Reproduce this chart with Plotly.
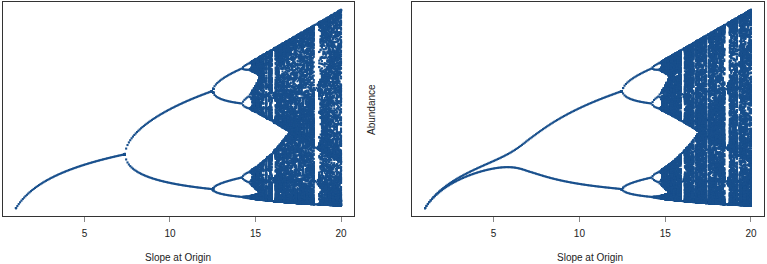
import numpy as np
import plotly.graph_objects as go

# ---- model settings (Ricker map: N[t+1] = r * N[t] * exp(-N[t]); r = slope at origin) ----
r_start = 1.0
r_end = 20.0
r_count_left = 240       # number of slope values simulated (left panel)
r_count_right = 233      # number of slope values simulated (right panel)
n_transient = 600        # iterations discarded
n_keep_left = 250        # iterations plotted per slope value (left panel)
n_keep_right = 350       # iterations plotted per slope value (right panel)
n_init = 0.5             # initial abundance
# right panel: alternating (period-2) multiplicative variation of r,
# full strength up to r = 7, fading out by r = 12
forcing_right = 1.035
fade_start = 7.0
fade_end = 12.0

x_ticks = [5, 10, 15, 20]
x_tick_labels = ["5", "10", "15", "20"]
x_title = "Slope at Origin"
y_title = "Abundance"

point_color = "#184f8c"


def bifurcation(forcing, r_count, n_keep):
    r = np.linspace(r_start, r_end, r_count)
    weight = np.clip((fade_end - r) / (fade_end - fade_start), 0.0, 1.0)
    amp = np.log(forcing) * weight
    n = np.full_like(r, n_init)
    t = 0
    for _ in range(n_transient):
        f = np.exp(amp if t % 2 == 0 else -amp)
        n = r * f * n * np.exp(-n)
        t += 1
    xs, ys = [], []
    for _ in range(n_keep):
        f = np.exp(amp if t % 2 == 0 else -amp)
        n = r * f * n * np.exp(-n)
        t += 1
        xs.append(r.copy())
        ys.append(n.copy())
    x = np.concatenate(xs)
    y = np.concatenate(ys)
    key = np.round(x, 6) * 1e4 + np.round(y, 4)
    _, idx = np.unique(key, return_index=True)
    idx.sort()
    return x[idx], y[idx]


xl, yl = bifurcation(1.0, r_count_left, n_keep_left)
xr, yr = bifurcation(forcing_right, r_count_right, n_keep_right)


def padded(lo, hi, frac=0.04):
    s = hi - lo
    return [lo - frac * s, hi + frac * s]


fig = go.Figure()
marker = dict(color=point_color, size=2.1, symbol="square", line=dict(width=0))
fig.add_trace(go.Scatter(x=xl, y=yl, mode="markers", marker=marker,
                         xaxis="x", yaxis="y", showlegend=False, hoverinfo="skip"))
fig.add_trace(go.Scatter(x=xr, y=yr, mode="markers", marker=marker,
                         xaxis="x2", yaxis="y2", showlegend=False, hoverinfo="skip"))

W, H = 767, 264
box_top = 2
box_bottom = 216
ydom = [(H - box_bottom) / H, (H - box_top) / H]
font = dict(family="Liberation Sans, Arial, sans-serif", size=10, color="#222222")

axis_common = dict(
    showline=True, linecolor="#333333", linewidth=1, mirror=True,
    showgrid=False, zeroline=False,
    ticks="outside", ticklen=5, tickcolor="#888888", tickwidth=1,
    tickvals=x_ticks, ticktext=x_tick_labels,
    tickfont=font,
    ticklabelstandoff=3,
)
yaxis_common = dict(
    showline=True, linecolor="#333333", linewidth=1, mirror=True,
    showgrid=False, zeroline=False, showticklabels=False, ticks="",
)

fig.update_layout(
    width=W, height=H,
    margin=dict(l=0, r=0, t=0, b=0),
    paper_bgcolor="white", plot_bgcolor="white",
    xaxis=dict(domain=[3 / W, 354 / W], range=padded(r_start, r_end), anchor="y", **axis_common),
    yaxis=dict(domain=ydom, range=padded(0, float(yl.max())), anchor="x", **yaxis_common),
    xaxis2=dict(domain=[412 / W, 764 / W], range=padded(r_start, r_end), anchor="y2", **axis_common),
    yaxis2=dict(domain=ydom, range=padded(0, float(yr.max())), anchor="x2", **yaxis_common),
    annotations=[
        dict(text=x_title, x=178 / W, y=(H - 257) / H, xref="paper", yref="paper",
             xanchor="center", yanchor="middle", showarrow=False, font=font),
        dict(text=x_title, x=590 / W, y=(H - 257) / H, xref="paper", yref="paper",
             xanchor="center", yanchor="middle", showarrow=False, font=font),
        dict(text=y_title, x=372 / W, y=(H - 110) / H, xref="paper", yref="paper", textangle=-90,
             xanchor="center", yanchor="middle", showarrow=False, font=font),
    ],
)

fig.write_html("out.html", config={"displayModeBar": False},
               post_script="document.body.style.margin='0';document.body.style.overflow='hidden';")
